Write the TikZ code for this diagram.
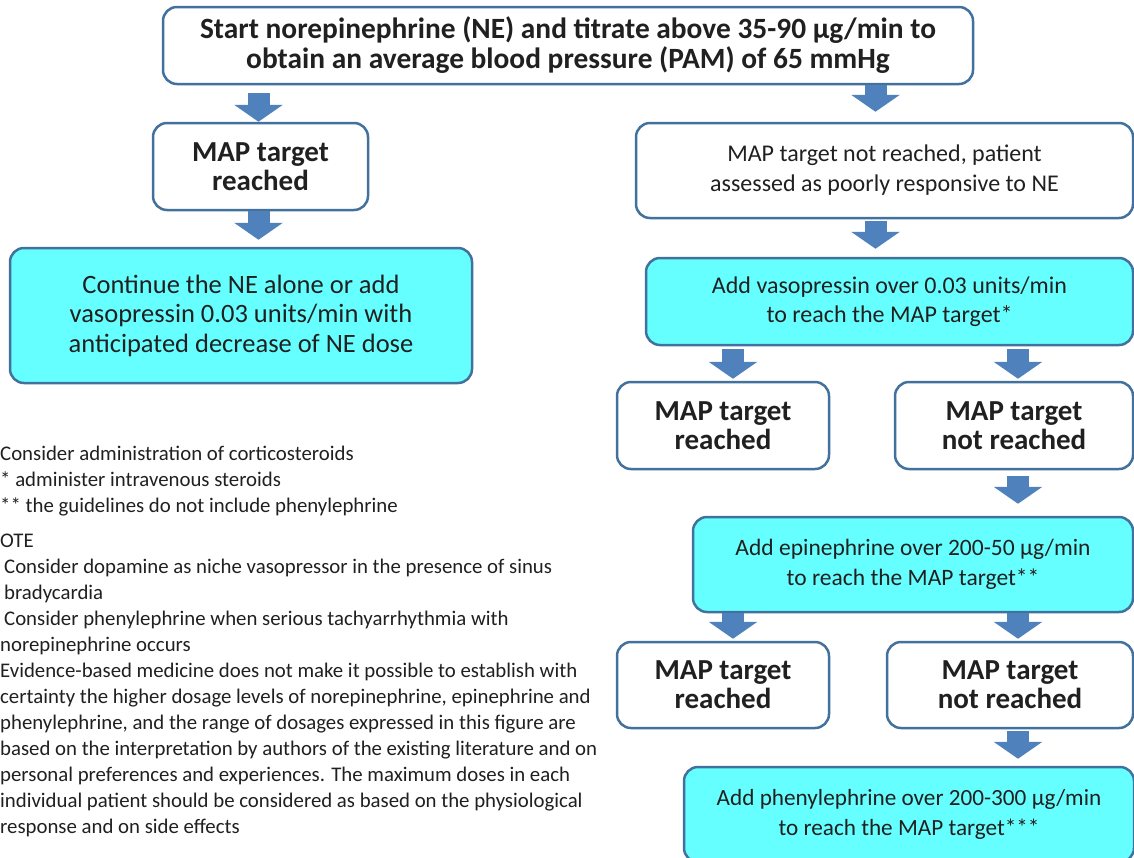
\documentclass[tikz,border=0pt]{standalone}
\usepackage{fontspec}
\setmainfont{Carlito}
\usetikzlibrary{arrows.meta,calc}
\definecolor{bord}{HTML}{41719C}
\definecolor{bleufleche}{HTML}{4F81BD}
\definecolor{cyanclair}{HTML}{66FFFF}
\definecolor{texte}{HTML}{202020}
\begin{document}
\begin{tikzpicture}[x=1pt,y=-1pt]
\tikzset{boite/.style={draw=bord, line width=2.5pt, rounded corners=14pt, fill=white, align=center, inner sep=0pt, text=texte}}
\tikzset{gras/.style={boite, font=\fontsize{29}{29}\selectfont\bfseries}}
\tikzset{bleue/.style={boite, fill=cyanclair, font=\fontsize{24}{29.5}\selectfont}}
\tikzset{fleche/.style={draw=bleufleche, line width=22pt, -{Triangle[width=48pt,length=17pt]}}}
\tikzset{notes/.style={align=left, inner sep=0pt, text=texte, font=\fontsize{20.8}{26}\selectfont}}
\clip (0,0) rectangle (1134,857);
\fill[white] (0,0) rectangle (1134,857);
\node[gras, minimum width=810pt, minimum height=77pt, font=\fontsize{29.4}{30}\selectfont\bfseries] (B0) at (568,45.5) {Start norepinephrine (NE) and titrate above 35-90 µg/min to\\obtain an average blood pressure (PAM) of 65 mmHg};
\node[gras, minimum width=215pt, minimum height=87pt] (B1) at (260.5,166.5) {MAP target\\reached};
\node[bleue, minimum width=462pt, minimum height=135pt, font=\fontsize{26.5}{29.5}\selectfont] (B2) at (241,315.5) {Continue the NE alone or add\\vasopressin 0.03 units/min with\\anticipated decrease of NE dose};
\node[boite, minimum width=497pt, minimum height=95pt, font=\fontsize{24}{30}\selectfont] (B3) at (884.5,170.5) {MAP target not reached, patient\\assessed as poorly responsive to NE};
\node[bleue, minimum width=487pt, minimum height=87pt] (B4) at (889.5,301.5) {Add vasopressin over 0.03 units/min\\to reach the MAP target*};
\node[gras, minimum width=212pt, minimum height=87pt] (B5) at (723,425.5) {MAP target\\reached};
\node[gras, minimum width=238pt, minimum height=87pt] (B6) at (1014,425.5) {MAP target\\not reached};
\node[bleue, minimum width=440pt, minimum height=95pt, font=\fontsize{23.5}{29.5}\selectfont] (B7) at (913,564.5) {Add epinephrine over 200-50 µg/min\\to reach the MAP target**};
\node[gras, minimum width=212pt, minimum height=86pt] (B8) at (723,685) {MAP target\\reached};
\node[gras, minimum width=246pt, minimum height=86pt] (B9) at (1010,685) {MAP target\\not reached};
\node[bleue, minimum width=450pt, minimum height=95pt, font=\fontsize{23.2}{29.5}\selectfont] (B10) at (909,814.5) {Add phenylephrine over 200-300 µg/min\\to reach the MAP target***};
% fleches
\draw[fleche] ($(B0.south -| B1.north)+(-2,8)$) -- ($(B1.north)+(-2,0)$);
\draw[fleche] ($(B0.south -| B3.north)+(-9,0)$) -- ($(B3.north)+(-9,-10)$);
\draw[fleche] ($(B1.south)+(-2,0)$) -- ($(B1.south |- B2.north)+(-2,-7)$);
\draw[fleche] ($(B3.south)+(-9,2)$) -- ($(B3.south |- B4.north)+(-9,-8)$);
\draw[fleche] ($(B4.south -| B5.north)+(10,3)$) -- ($(B5.north)+(10,-2)$);
\draw[fleche] ($(B4.south -| B6.north)+(4,3)$) -- ($(B6.north)+(4,-2)$);
\draw[fleche] ($(B6.south)+(4,6)$) -- ($(B6.south |- B7.north)+(4,-12)$);
\draw[fleche] ($(B7.south -| B8.north)+(10,0)$) -- ($(B8.north)+(10,-2)$);
\draw[fleche] ($(B7.south -| B9.north)+(8,0)$) -- ($(B9.north)+(8,-2)$);
\draw[fleche] ($(B9.south)+(8,2)$) -- ($(B9.south |- B10.north)+(8,-7)$);
% notes
\node[notes, anchor=north west] (N1) at (0,446) {Consider administration of corticosteroids\\* administer intravenous steroids\\** the guidelines do not include phenylephrine};
\node[notes, anchor=north west] (N2) at (0,534) {OTE\\
\hspace{4pt}Consider dopamine as niche vasopressor in the presence of sinus\\
\hspace{4pt}bradycardia\\
\hspace{4pt}Consider phenylephrine when serious tachyarrhythmia with\\
norepinephrine occurs\\
Evidence-based medicine does not make it possible to establish with\\
certainty the higher dosage levels of norepinephrine, epinephrine and\\
phenylephrine, and the range of dosages expressed in this figure are\\
based on the interpretation by authors of the existing literature and on\\
personal preferences and experiences. The maximum doses in each\\
individual patient should be considered as based on the physiological\\
response and on side effects};
\end{tikzpicture}
\end{document}
